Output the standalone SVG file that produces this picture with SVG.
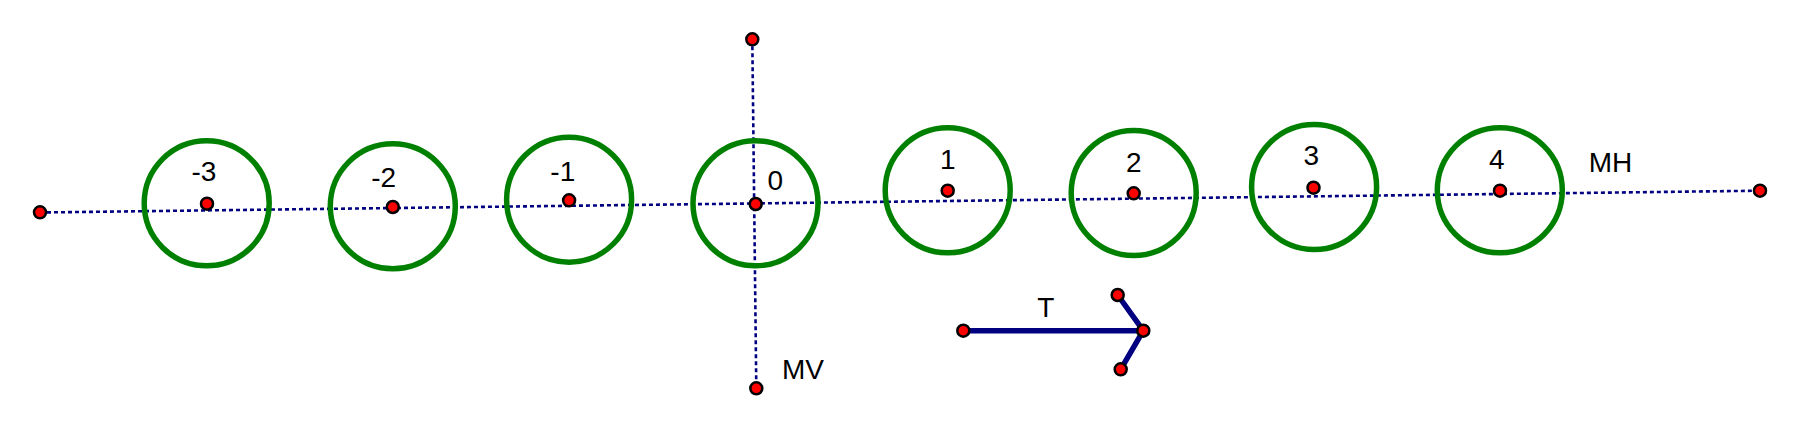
<svg xmlns="http://www.w3.org/2000/svg" width="1800" height="429" viewBox="0 0 1800 429">
<style>
.ring{fill:none;stroke:#008000;stroke-width:5.5}
.pt{fill:#ff0000;stroke:#000;stroke-width:2.5}
.dot{fill:none;stroke:#000080;stroke-width:2.6;stroke-dasharray:4 3}
.vec{fill:none;stroke:#000080;stroke-width:5.5;stroke-linecap:round}
.lbl{font-family:"Liberation Sans",Arial,sans-serif;font-size:28px;fill:#000;text-anchor:middle}
</style>
<rect width="1800" height="429" fill="#fff"/>
<g id="connectors">
<line class="dot" x1="40" y1="212.5" x2="1760" y2="190.7"/>
<line class="dot" x1="752.3" y1="39.3" x2="756.3" y2="388.3"/>
<line class="vec" x1="963.3" y1="330.7" x2="1143.3" y2="330.7"/>
<line class="vec" x1="1117.7" y1="295" x2="1143.3" y2="330.7"/>
<line class="vec" x1="1120.7" y1="369.3" x2="1143.3" y2="330.7"/>
</g>
<g id="node-m3"><circle class="ring" cx="206.7" cy="203.3" r="62.5"/><circle class="pt" cx="207" cy="203.7" r="6"/><text class="lbl" x="204" y="181">-3</text></g>
<g id="node-m2"><circle class="ring" cx="392.8" cy="206.3" r="62.5"/><circle class="pt" cx="392.8" cy="207" r="6"/><text class="lbl" x="383.6" y="187">-2</text></g>
<g id="node-m1"><circle class="ring" cx="569.1" cy="199.7" r="62.5"/><circle class="pt" cx="569.1" cy="200.3" r="6"/><text class="lbl" x="562.8" y="180.5">-1</text></g>
<g id="node-0"><circle class="ring" cx="755.5" cy="203.3" r="62.5"/><circle class="pt" cx="755.7" cy="204" r="6"/><text class="lbl" x="775.3" y="190">0</text></g>
<g id="node-1"><circle class="ring" cx="947.7" cy="190.3" r="62.5"/><circle class="pt" cx="947.7" cy="190.7" r="6"/><text class="lbl" x="947.7" y="169">1</text></g>
<g id="node-2"><circle class="ring" cx="1133.7" cy="193" r="62.5"/><circle class="pt" cx="1133.7" cy="193.3" r="6"/><text class="lbl" x="1133.7" y="171.5">2</text></g>
<g id="node-3"><circle class="ring" cx="1314.1" cy="187" r="62.5"/><circle class="pt" cx="1313.5" cy="187.7" r="6"/><text class="lbl" x="1311.4" y="164.5">3</text></g>
<g id="node-4"><circle class="ring" cx="1499.8" cy="190.3" r="62.5"/><circle class="pt" cx="1500" cy="190.7" r="6"/><text class="lbl" x="1496.7" y="169">4</text></g>
<g id="node-mh-ends"><circle class="pt" cx="40" cy="212.3" r="6"/><circle class="pt" cx="1760" cy="190.7" r="6"/><text class="lbl" x="1610.5" y="171.5">MH</text></g>
<g id="node-mv-ends"><circle class="pt" cx="752.3" cy="39.3" r="6"/><circle class="pt" cx="756.3" cy="388.3" r="6"/><text class="lbl" x="802.9" y="379">MV</text></g>
<g id="node-t"><circle class="pt" cx="963.3" cy="330.7" r="6"/><circle class="pt" cx="1143.3" cy="330.7" r="6"/><circle class="pt" cx="1117.7" cy="295" r="6"/><circle class="pt" cx="1120.7" cy="369.3" r="6"/><text class="lbl" x="1045.7" y="317">T</text></g>
</svg>
